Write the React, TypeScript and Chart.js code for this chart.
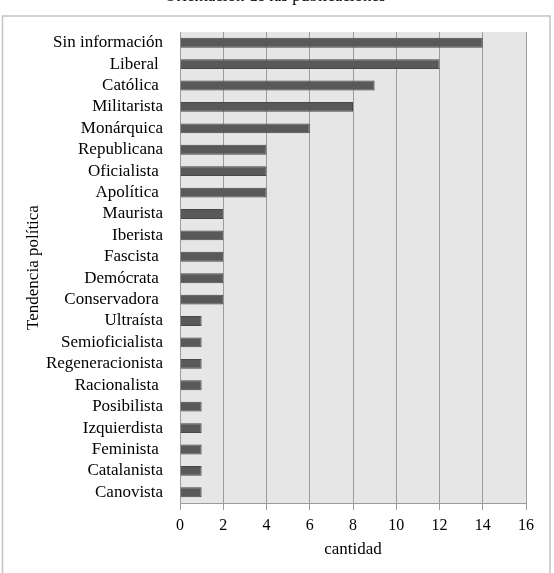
import React, { useEffect, useRef } from 'react';
import { Chart, registerables } from 'chart.js';

Chart.register(...registerables);

const chartTitle = 'Orientación de las publicaciones';
const xTitle = 'cantidad';
const yTitle = 'Tendencia política';

const categories = [
  'Sin información',
  'Liberal ',
  'Católica ',
  'Militarista',
  'Monárquica',
  'Republicana',
  'Oficialista ',
  'Apolítica ',
  'Maurista',
  'Iberista',
  'Fascista ',
  'Demócrata ',
  'Conservadora ',
  'Ultraísta',
  'Semioficialista',
  'Regeneracionista',
  'Racionalista ',
  'Posibilista',
  'Izquierdista',
  'Feminista ',
  'Catalanista',
  'Canovista',
];

const values = [14, 12, 9, 8, 6, 4, 4, 4, 2, 2, 2, 2, 2, 1, 1, 1, 1, 1, 1, 1, 1, 1];

const xMin = 0;
const xMax = 16;
const xStep = 2;

const FONT = '"Liberation Serif", "Times New Roman", serif';

const framePlugin = {
  id: 'frame',
  beforeDraw(chart: any) {
    const { ctx, chartArea } = chart;
    ctx.save();
    ctx.fillStyle = '#e6e6e6';
    ctx.fillRect(chartArea.left, chartArea.top, chartArea.right - chartArea.left, chartArea.bottom - chartArea.top);
    ctx.strokeStyle = '#c4c4c4';
    ctx.lineWidth = 1.5;
    ctx.strokeRect(2.5, 16, 547.5, 620);
    ctx.restore();
  },
  afterDraw(chart: any) {
    const { ctx } = chart;
    ctx.save();
    ctx.fillStyle = '#000';
    ctx.font = `17px ${FONT}`;
    ctx.textAlign = 'center';
    ctx.textBaseline = 'alphabetic';
    ctx.fillText(chartTitle, 275, 1);
    ctx.restore();
  },
};

export default function App() {
  const ref = useRef<HTMLCanvasElement | null>(null);

  useEffect(() => {
    if (!ref.current) return;
    const chart = new Chart(ref.current, {
      type: 'bar',
      data: {
        labels: categories,
        datasets: [
          {
            data: values,
            backgroundColor: '#595959',
            borderColor: '#474747',
            borderWidth: 1,
            categoryPercentage: 0.5,
            barPercentage: 0.92,
          },
        ],
      },
      options: {
        indexAxis: 'y',
        responsive: false,
        animation: false,
        layout: { padding: { top: 32, right: 28, left: 0, bottom: 0 } },
        plugins: {
          legend: { display: false },
          tooltip: { enabled: false },
        },
        scales: {
          x: {
            min: xMin,
            max: xMax,
            ticks: {
              stepSize: xStep,
              color: '#000',
              font: { family: FONT, size: 16 },
              padding: 6,
            },
            grid: {
              color: '#9c9c9c',
              lineWidth: 1,
              tickLength: 7,
              drawTicks: true,
            },
            border: { color: '#9c9c9c' },
            title: {
              display: true,
              text: xTitle,
              color: '#000',
              font: { family: FONT, size: 17 },
              padding: { top: 0, bottom: 13 },
            },
            afterFit(scale: any) {
              scale.height = 70;
            },
          },
          y: {
            ticks: {
              color: '#000',
              font: { family: FONT, size: 17 },
              padding: 17,
              autoSkip: false,
            },
            grid: { display: false, drawTicks: false },
            border: { display: true, color: '#9c9c9c' },
            title: {
              display: true,
              text: yTitle,
              color: '#000',
              font: { family: FONT, size: 17 },
              padding: { top: 23, bottom: 0 },
            },
            afterFit(scale: any) {
              scale.width = 180;
            },
          },
        },
      },
      plugins: [framePlugin],
    });
    return () => chart.destroy();
  }, []);

  return (
    <div style={{ position: 'absolute', left: 0, top: 0, width: 554, height: 573 }}>
      <canvas ref={ref} width={554} height={573} />
    </div>
  );
}
